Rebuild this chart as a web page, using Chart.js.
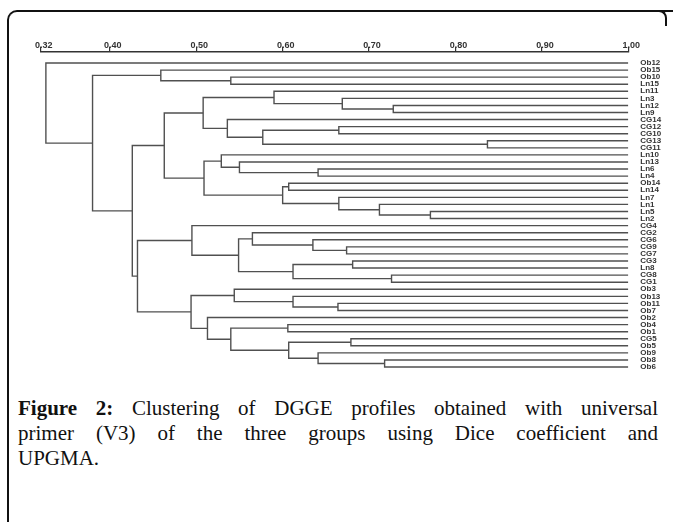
<!DOCTYPE html>
<html>
<head>
<meta charset="utf-8">
<script src="https://cdn.jsdelivr.net/npm/chart.js@4.4.0/dist/chart.umd.min.js"></script>
<style>
  body { margin: 0; background: #fff; width: 673px; height: 522px; overflow: hidden; position: relative; }
  #frame { position: absolute; left: 7px; top: 10px; width: 700px; height: 600px;
           border-top: 2px solid #111; border-left: 2px solid #111; border-top-left-radius: 10px; }
  #corner { position: absolute; left: 655px; top: 10px; width: 10px; height: 14px;
            border-top: 2px solid #111; border-right: 2px solid #111; border-top-right-radius: 8px; }
  #chart { position: absolute; left: 0; top: 0; }
  #cap { position: absolute; left: 18px; top: 396px; width: 640px; color: #111;
         font-family: "Liberation Serif", "DejaVu Serif", serif; font-size: 21px; line-height: 25px; }
  .j { text-align: justify; text-align-last: justify; }
</style>
</head>
<body>
<div id="frame"></div>
<div id="corner"></div>
<canvas id="chart" width="673" height="390"></canvas>
<div id="cap">
  <div class="j"><b>Figure 2:</b> Clustering of DGGE profiles obtained with universal</div>
  <div class="j">primer (V3) of the three groups using Dice coefficient and</div>
  <div>UPGMA.</div>
</div>
<script>
// leaves, top to bottom
const leaves = ['Ob12', 'Ob15', 'Ob10', 'Ln15', 'Ln11', 'Ln3', 'Ln12', 'Ln9', 'CG14', 'CG12', 'CG10',
    'CG13', 'CG11', 'Ln10', 'Ln13', 'Ln6', 'Ln4', 'Ob14', 'Ln14', 'Ln7', 'Ln1', 'Ln5', 'Ln2', 'CG4',
    'CG2', 'CG6', 'CG9', 'CG7', 'CG3', 'Ln8', 'CG8', 'CG1', 'Ob3', 'Ob13', 'Ob11', 'Ob7', 'Ob2', 'Ob4',
    'Ob1', 'CG5', 'Ob5', 'Ob9', 'Ob8', 'Ob6'];

// UPGMA joins: [left, right, similarity], a number points to an earlier join
const joins = [
    ['Ln12', 'Ln9', 0.728],   // 0
    ['Ln3', 0, 0.669],        // 1
    ['Ln11', 1, 0.590],       // 2
    ['CG12', 'CG10', 0.665],  // 3
    ['CG13', 'CG11', 0.837],  // 4
    [3, 4, 0.577],            // 5
    ['CG14', 5, 0.536],       // 6
    [2, 6, 0.508],            // 7
    ['Ln6', 'Ln4', 0.641],    // 8
    ['Ln13', 8, 0.550],       // 9
    ['Ln10', 9, 0.529],       // 10
    ['Ob14', 'Ln14', 0.607],  // 11
    ['Ln5', 'Ln2', 0.771],    // 12
    ['Ln1', 12, 0.712],       // 13
    ['Ln7', 13, 0.665],       // 14
    [11, 14, 0.600],          // 15
    [10, 15, 0.509],          // 16
    [7, 16, 0.463],           // 17
    ['CG9', 'CG7', 0.674],    // 18
    ['CG6', 18, 0.635],       // 19
    ['CG2', 19, 0.565],       // 20
    ['CG3', 'Ln8', 0.681],    // 21
    ['CG8', 'CG1', 0.726],    // 22
    [21, 22, 0.612],          // 23
    [20, 23, 0.549],          // 24
    ['CG4', 24, 0.495],       // 25
    ['Ob11', 'Ob7', 0.664],   // 26
    ['Ob13', 26, 0.612],      // 27
    ['Ob3', 27, 0.544],       // 28
    ['Ob4', 'Ob1', 0.606],    // 29
    ['CG5', 'Ob5', 0.679],    // 30
    ['Ob8', 'Ob6', 0.718],    // 31
    ['Ob9', 31, 0.641],       // 32
    [30, 32, 0.607],          // 33
    [29, 33, 0.540],          // 34
    ['Ob2', 34, 0.513],       // 35
    [28, 35, 0.494],          // 36
    [25, 36, 0.432],          // 37
    [17, 37, 0.426],          // 38
    ['Ob10', 'Ln15', 0.540],  // 39
    ['Ob15', 39, 0.459],      // 40
    [40, 38, 0.380],          // 41
    ['Ob12', 41, 0.326]       // 42
];

const tickVals = [0.32, 0.40, 0.50, 0.60, 0.70, 0.80, 0.90, 1.00];

// build the elbows
const pos = {};
leaves.forEach((n, i) => pos[n] = { x: 1, y: i });
const nodes = [];
const getNode = r => typeof r === 'number' ? nodes[r] : pos[r];

const datasets = joins.map(([a, b, s]) => {
    const p = getNode(a), q = getNode(b);
    nodes.push({ x: s, y: (p.y + q.y) / 2 });
    return {
        data: [{ x: p.x, y: p.y }, { x: s, y: p.y }, { x: s, y: q.y }, { x: q.x, y: q.y }],
        showLine: true,
        borderColor: '#505050',
        borderWidth: 1.4,
        pointRadius: 0,
        fill: false,
        tension: 0
    };
});

const ctx = document.getElementById('chart');
new Chart(ctx, {
    type: 'scatter',
    data: { datasets: datasets },
    options: {
        responsive: false,
        animation: false,
        layout: { padding: { top: 31.7, left: 40.7, right: 0, bottom: 15.9 } },
        plugins: { legend: { display: false }, tooltip: { enabled: false } },
        scales: {
            x: {
                type: 'linear',
                position: 'top',
                min: 0.32,
                max: 1.00,
                afterBuildTicks: s => { s.ticks = tickVals.map(v => ({ value: v })); },
                afterFit: s => { s.height = 20; },
                grid: { drawOnChartArea: false, drawTicks: true, tickLength: 5, color: '#333', lineWidth: 1.2 },
                border: { display: true, color: '#333', width: 1.4 },
                ticks: {
                    autoSkip: false,
                    maxRotation: 0,
                    padding: -4,
                    labelOffset: 3,
                    color: '#333',
                    font: { family: 'Liberation Sans, Arial', size: 9, weight: 'bold' },
                    callback: v => v.toFixed(2)
                }
            },
            y: {
                type: 'linear',
                position: 'right',
                reverse: true,
                min: -1.6,
                max: 44,
                afterBuildTicks: s => { s.ticks = leaves.map((_, i) => ({ value: i })); },
                afterFit: s => { s.width = 44.7; },
                grid: { display: false },
                border: { display: false },
                ticks: {
                    autoSkip: false,
                    padding: 4,
                    color: '#333',
                    font: { family: 'Liberation Sans, Arial', size: 8, weight: 'bold' },
                    callback: v => leaves[v] ?? ''
                }
            }
        }
    }
});
</script>
</body>
</html>
